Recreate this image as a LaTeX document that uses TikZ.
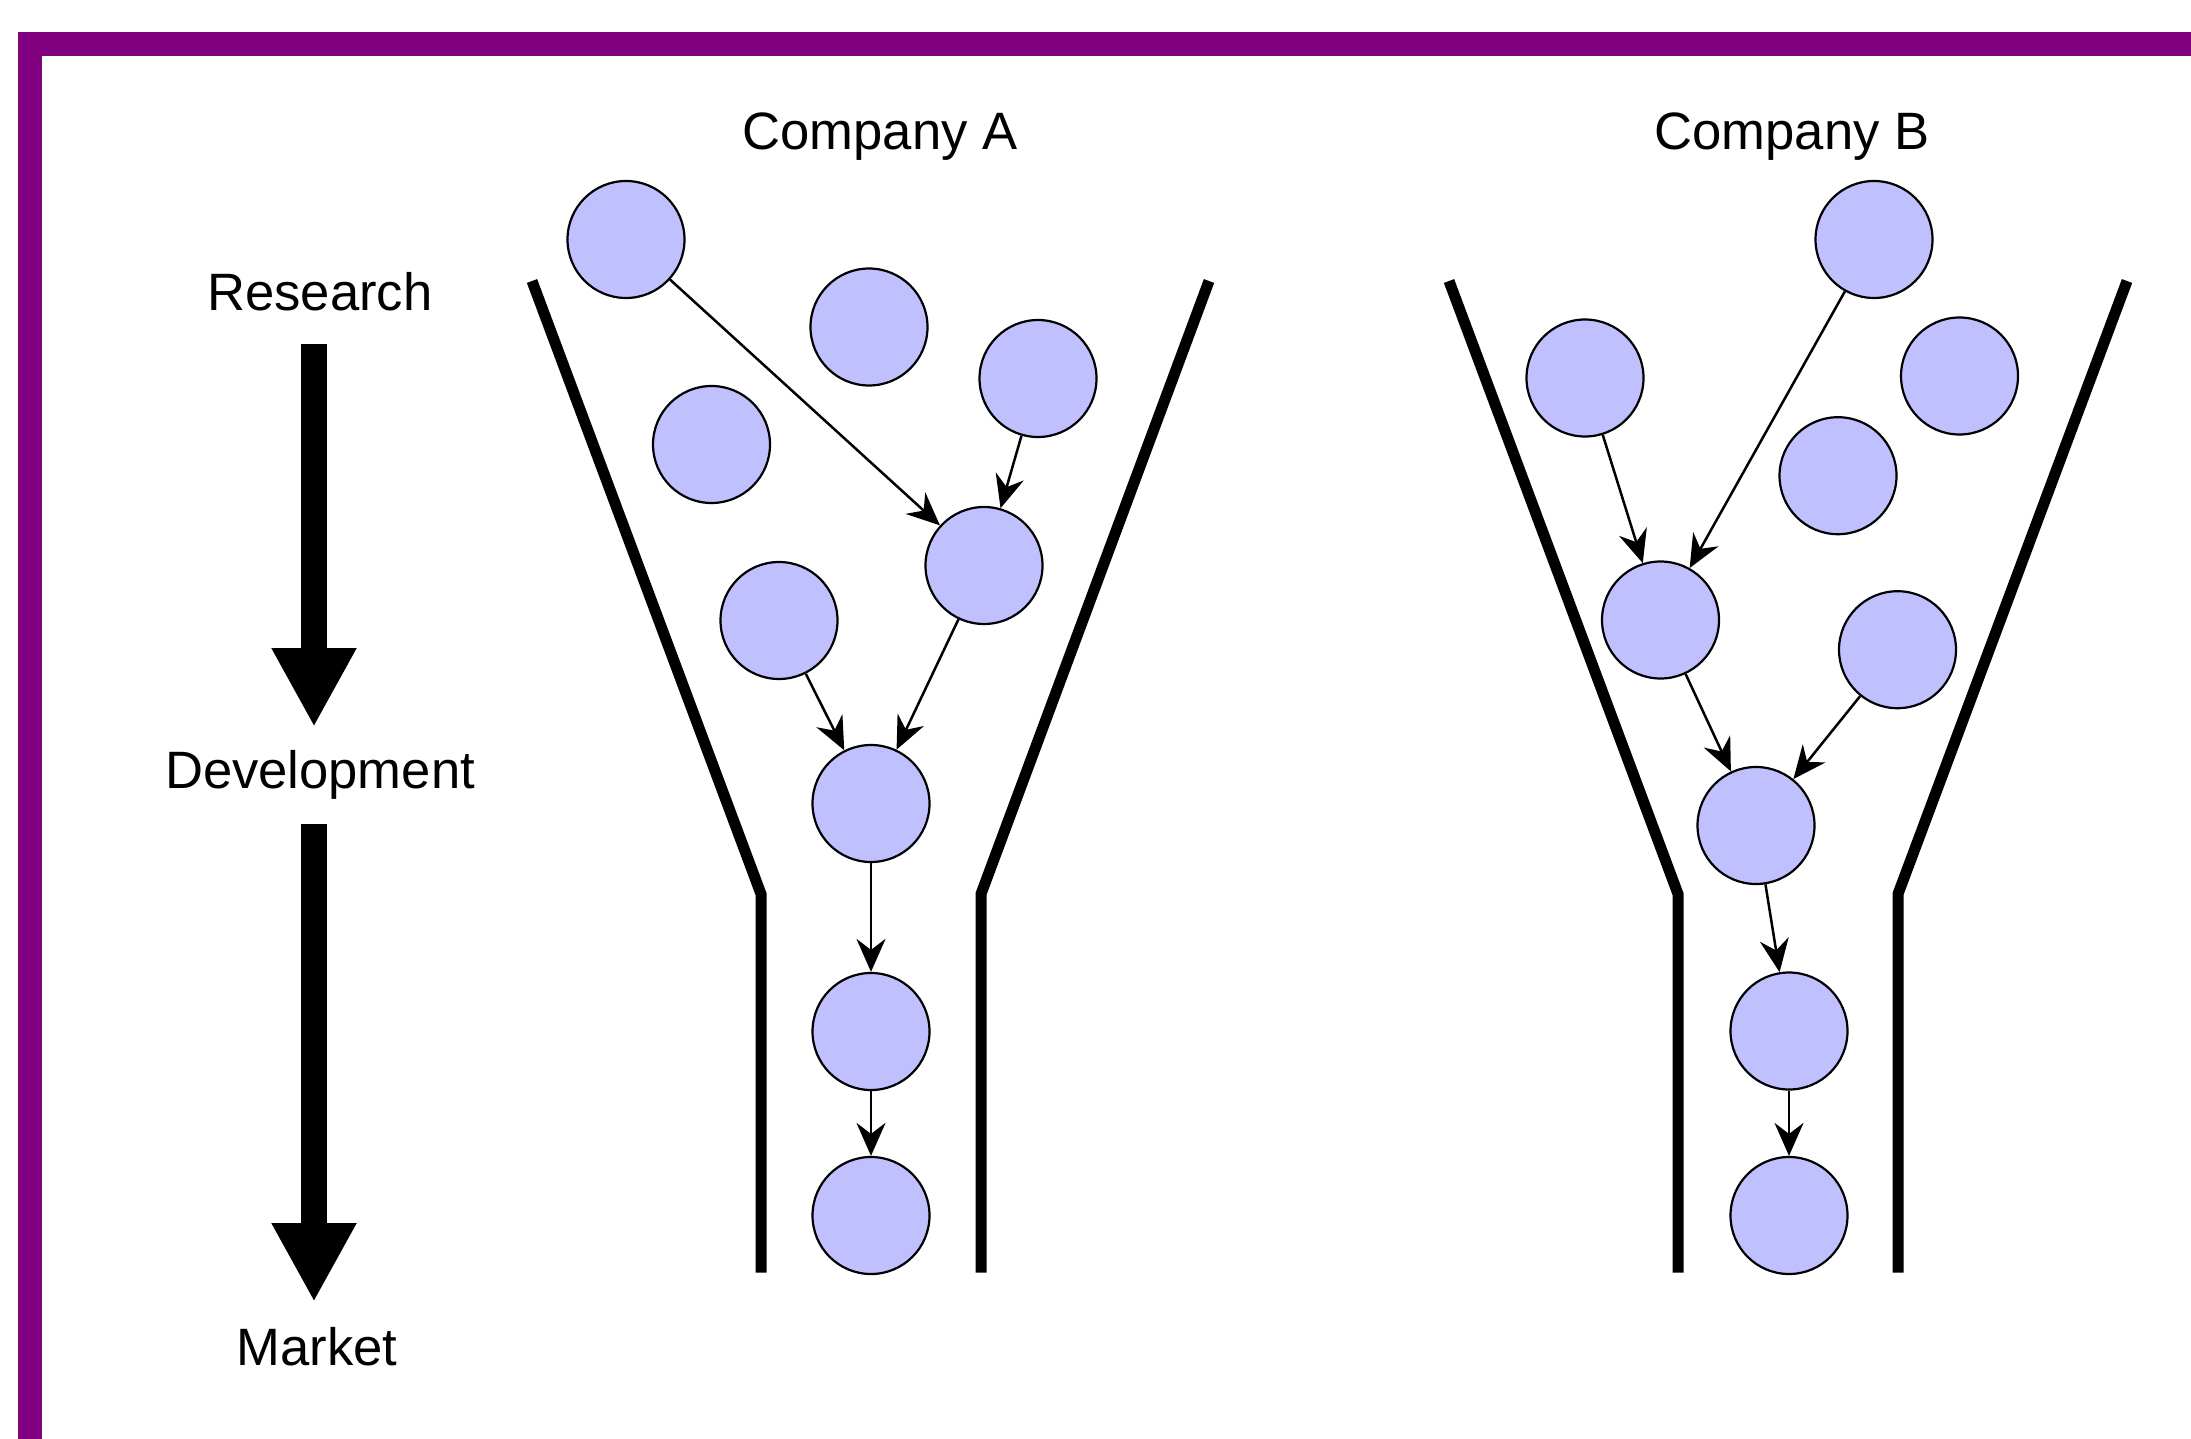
\documentclass[tikz,border=0pt]{standalone}
\usepackage{fontspec}
\setmainfont{Liberation Sans}
\usetikzlibrary{arrows.meta}
\definecolor{framepurple}{RGB}{128,0,128}
\definecolor{ballfill}{RGB}{192,192,255}
\begin{document}
\begin{tikzpicture}[x=1pt,y=-1pt,
  ball/.style={circle,draw=black,line width=2.2pt,fill=ballfill,minimum size=117pt,inner sep=0pt},
  conn/.style={line width=2.5pt,-{Stealth[length=33pt,width=29pt,inset=11pt]}},
  wall/.style={line width=11pt},
  lbl/.style={anchor=base,inner sep=0pt,font=\fontsize{52.6}{63}\selectfont},
  bigarrow/.style={line width=26.7pt,-{Triangle[length=79pt,width=79.3pt]}}]
\useasboundingbox (0,0) rectangle (2191,1439);
\fill[white] (0,0) rectangle (2191,1439);
% purple frame (top and left bands)
\fill[framepurple] (18,32) rectangle (2191,56);
\fill[framepurple] (18,32) rectangle (42,1439);

% stage labels and block arrows
\node[lbl] (research) at (320,310) {Research};
\node[lbl] (development) at (320,788) {Development};
\node[lbl] (market) at (317,1365) {Market};
\coordinate (s1) at (314,344);
\coordinate (e1) at (314,727);
\coordinate (s2) at (314,824);
\coordinate (e2) at (314,1302);
\draw[bigarrow] (s1) -- (e1);
\draw[bigarrow] (s2) -- (e2);

% company titles
\node[lbl] (compA) at (880,150) {Company A};
\node[lbl] (compB) at (1792,150) {Company B};

% funnel walls
\draw[wall] (532,281) -- (761,894) -- (761,1272.5);
\draw[wall] (1209,281) -- (981,894) -- (981,1272.5);
\draw[wall] (1449,281) -- (1678,894) -- (1678,1272.5);
\draw[wall] (2127,281) -- (1898,894) -- (1898,1272.5);

% Company A projects
\node[ball] (a1) at (626,239.5) {};
\node[ball] (a2) at (869,327) {};
\node[ball] (a3) at (1038,378.5) {};
\node[ball] (a4) at (711.5,444.5) {};
\node[ball] (a5) at (984,565.5) {};
\node[ball] (a6) at (779,620.5) {};
\node[ball] (a7) at (871,803.5) {};
\node[ball] (a8) at (871,1031.5) {};
\node[ball] (a9) at (871,1215.5) {};
\draw[conn] (a1) -- (a5);
\draw[conn] (a3) -- (a5);
\draw[conn] (a6) -- (a7);
\draw[conn] (a5) -- (a7);
\draw[conn] (a7) -- (a8);
\draw[conn] (a8) -- (a9);

% Company B projects
\node[ball] (b1) at (1874,239.5) {};
\node[ball] (b2) at (1585,378) {};
\node[ball] (b3) at (1959.5,376) {};
\node[ball] (b4) at (1838,475.7) {};
\node[ball] (b5) at (1660.5,620) {};
\node[ball] (b6) at (1897.5,649.7) {};
\node[ball] (b7) at (1756,825.5) {};
\node[ball] (b8) at (1789,1031) {};
\node[ball] (b9) at (1789,1215.5) {};
\draw[conn] (b2) -- (b5);
\draw[conn] (b1) -- (b5);
\draw[conn] (b5) -- (b7);
\draw[conn] (b6) -- (b7);
\draw[conn] (b7) -- (b8);
\draw[conn] (b8) -- (b9);
\end{tikzpicture}
\end{document}
